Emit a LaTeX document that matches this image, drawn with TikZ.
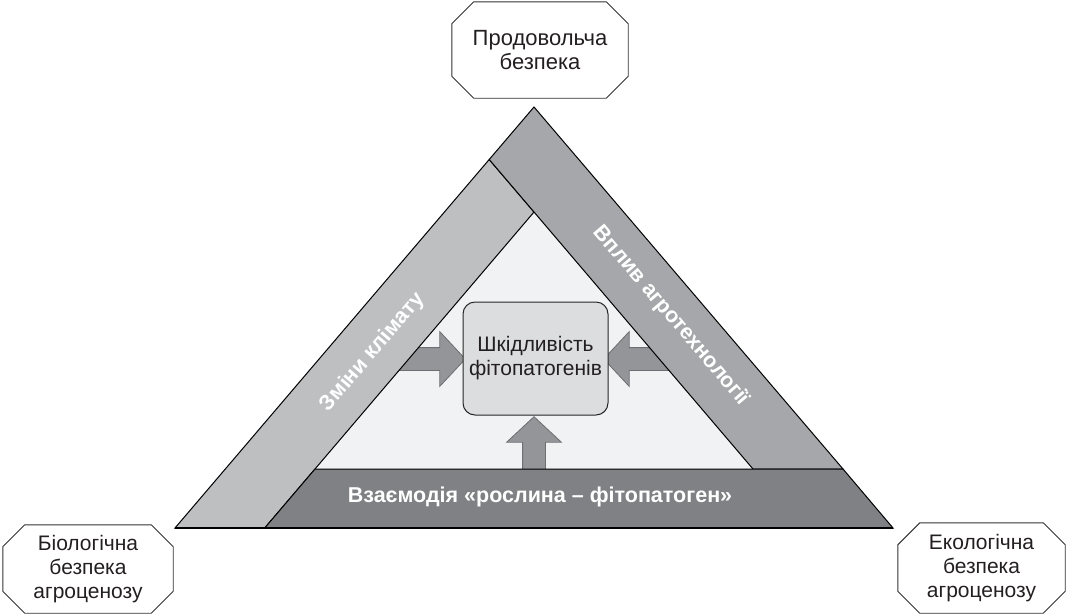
\documentclass[tikz,border=0pt]{standalone}
\usepackage{fontspec}
\setmainfont{Liberation Sans}
\usetikzlibrary{shapes.arrows}
\definecolor{bandlight}{HTML}{BEBFC1}
\definecolor{bandmid}{HTML}{A6A7AA}
\definecolor{banddark}{HTML}{808184}
\definecolor{innerfill}{HTML}{F1F2F3}
\definecolor{boxfill}{HTML}{DCDDDE}
\definecolor{arrowfill}{HTML}{939598}
\definecolor{arrowline}{HTML}{6D6E71}
\definecolor{textgrey}{HTML}{231F20}

\begin{document}
\begin{tikzpicture}
 [x=1pt, y=-1pt,
  octbox/.style={inner sep=0pt, align=center, text=textgrey,
    font=\fontsize{21}{24}\selectfont},
  octline/.style={draw=black!80, line width=0.9pt},
  band/.style={draw=black, line width=1pt},
  bandtext/.style={text=white, font=\fontsize{21.5}{24}\selectfont\bfseries},
  push/.style={single arrow, draw=arrowline, fill=arrowfill, line width=0.8pt,
    minimum width=54pt, minimum height=70pt, single arrow head extend=16pt,
    single arrow tip angle=94, inner sep=11pt}]
  \useasboundingbox (0,0) rectangle (1071,614);

  % outer and inner triangle
  \coordinate (top) at (534,107);
  \coordinate (bl) at (175,528);
  \coordinate (br) at (893,528);
  \coordinate (itop) at (534,212);
  \coordinate (ibl) at (315,469);
  \coordinate (ibr) at (753,469);
  \coordinate (lfoot) at (264.7,528);
  \coordinate (rfoot) at (843,469);
  \coordinate (lhead) at (489.2,159.5);

  \fill[innerfill] (itop) -- (ibr) -- (ibl) -- cycle;

  \node[push] at (425,359) (fromleft) {};
  \node[push, shape border rotate=180] at (644,359) (fromright) {};
  \node[push, shape border rotate=90] at (534,457) (frombottom) {};

  \filldraw[band, fill=bandlight] (lhead) -- (itop) -- (ibl) -- (lfoot) -- (bl) -- cycle;
  \filldraw[band, fill=bandmid] (top) -- (rfoot) -- (ibr) -- (itop) -- (lhead) -- cycle;
  \filldraw[band, fill=banddark] (ibl) -- (rfoot) -- (br) -- (lfoot) -- cycle;
  \draw[line width=2pt] (bl) -- (br);

  \node[bandtext, rotate=49.54] at (373,352) (climate) {Зміни клімату};
  \node[bandtext, rotate=-49.54] at (671,316) (agro) {Вплив агротехнології};
  \node[bandtext] at (540,497) (interact) {Взаємодія «рослина – фітопатоген»};

  \node[draw=black!85, fill=boxfill, rounded corners=12pt, line width=1pt,
    minimum width=145pt, minimum height=113pt, align=center, text=textgrey,
    font=\fontsize{21}{24}\selectfont] at (535.5,358.5) (harm) {Шкідливість\\фітопатогенів};

  \node[octbox, minimum width=176pt, minimum height=96pt,
    font=\fontsize{22}{24}\selectfont] at (540,50) (food) {Продовольча\\безпека};
  \node[octbox, minimum width=170pt, minimum height=88pt] at (88,569) (bio) {Біологічна\\безпека\\агроценозу};
  \node[octbox, minimum width=167pt, minimum height=90pt] at (981.5,568) (eco) {Екологічна\\безпека\\агроценозу};

  \foreach \n in {food,bio,eco}
    \draw[octline] ([xshift=22pt]\n.north west) -- ([xshift=-22pt]\n.north east)
      -- ([yshift=-22pt]\n.north east) -- ([yshift=22pt]\n.south east)
      -- ([xshift=-22pt]\n.south east) -- ([xshift=22pt]\n.south west)
      -- ([yshift=22pt]\n.south west) -- ([yshift=-22pt]\n.north west) -- cycle;
\end{tikzpicture}
\end{document}
